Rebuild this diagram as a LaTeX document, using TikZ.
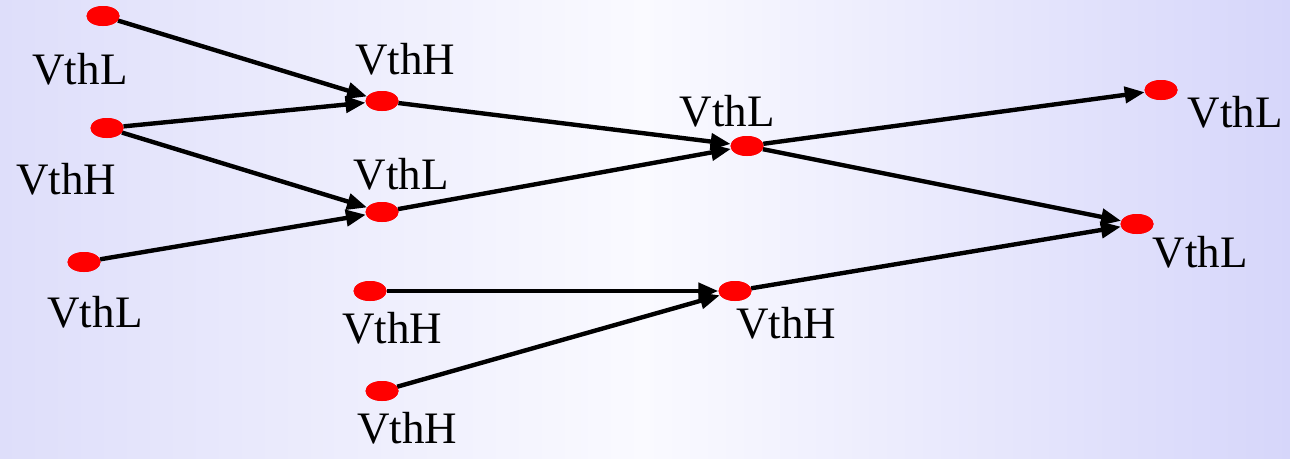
\documentclass[tikz,border=0pt]{standalone}
\usepackage{fontspec}
\setmainfont{Liberation Serif}
\newfontfamily\timesf{Liberation Serif}
\usetikzlibrary{arrows.meta,shapes.geometric}
\definecolor{bgL}{RGB}{222,222,250}
\definecolor{bgM}{RGB}{250,250,255}
\definecolor{bgR}{RGB}{214,214,250}
\tikzset{
  dot/.style={ellipse, fill=red, draw=none, minimum width=33pt, minimum height=20pt, inner sep=0pt},
  lbl/.style={inner sep=0pt, font=\timesf\fontsize{45}{50}\selectfont},
  edge/.style={line width=4.4pt, -{Triangle[length=20pt,width=16pt]}}
}
\begin{document}
\begin{tikzpicture}[x=1pt,y=-1pt]
\shade[left color=bgL, right color=bgR, middle color=bgM] (0,0) rectangle (1290,458);
\useasboundingbox (0,0) rectangle (1290,458);
% nodes
\node[dot] (A) at (103,16) {};
\node[dot] (B) at (107,128) {};
\node[dot] (C) at (84,262) {};
\node[dot] (D) at (382,101) {};
\node[dot] (E) at (382,212) {};
\node[dot] (F) at (747,146) {};
\node[dot] (G) at (1161,90) {};
\node[dot] (H) at (1137,224) {};
\node[dot] (I) at (370,291) {};
\node[dot] (J) at (735,291) {};
\node[dot] (K) at (382,391) {};
% labels
\node[lbl] (lA) at (80,69) {VthL};
\node[lbl] (lB) at (66,179) {VthH};
\node[lbl] (lC) at (95,312) {VthL};
\node[lbl] (lD) at (405,59) {VthH};
\node[lbl] (lE) at (401,174) {VthL};
\node[lbl] (lF) at (727,111) {VthL};
\node[lbl] (lG) at (1235,112) {VthL};
\node[lbl] (lH) at (1200,252) {VthL};
\node[lbl] (lI) at (392,328) {VthH};
\node[lbl] (lJ) at (786,323) {VthH};
\node[lbl] (lK) at (407,428) {VthH};
% edges
\draw[edge] (A) -- (D);
\draw[edge] (B) -- (D);
\draw[edge] (B) -- (E);
\draw[edge] (C) -- (E);
\draw[edge] (D) -- (F);
\draw[edge] (E) -- (F);
\draw[edge] (F) -- (G);
\draw[edge] (F) -- (H);
\draw[edge] (I) -- (J);
\draw[edge] (K) -- (J);
\draw[edge] (J) -- (H);
% redraw dots over edge starts
\foreach \n in {A,B,C,D,E,F,G,H,I,J,K} {\fill[red] (\n) ellipse (16.5pt and 10pt);}
\end{tikzpicture}
\end{document}
